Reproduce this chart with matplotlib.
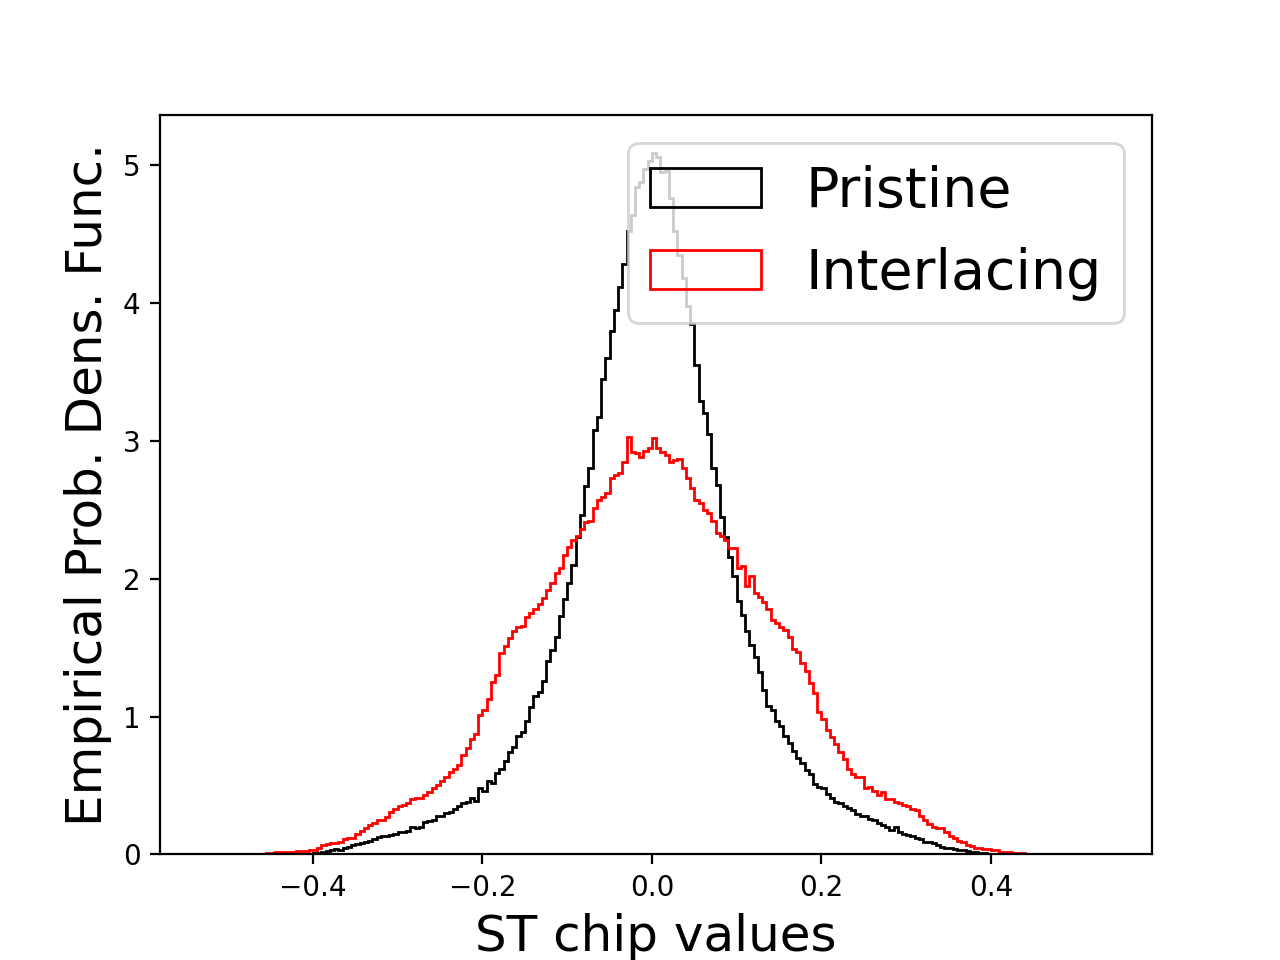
import numpy as np
import matplotlib
matplotlib.use("Agg")
import matplotlib.pyplot as plt

bin_width = 0.005

# Interlacing (red) bin heights, bins of width 0.005 starting at -0.455
red_start = -0.455
interlacing = [
    0.010, 0.012, 0.015, 0.015, 0.018, 0.020, 0.020, 0.022, 0.025, 0.028,
    0.030, 0.035, 0.050, 0.070, 0.075, 0.080, 0.085, 0.090, 0.110, 0.120,
    0.120, 0.150, 0.170, 0.190, 0.210, 0.230, 0.250, 0.250, 0.270, 0.310,
    0.330, 0.350, 0.360, 0.370, 0.400, 0.410, 0.410, 0.430, 0.450, 0.480,
    0.500, 0.530, 0.560, 0.600, 0.620, 0.650, 0.720, 0.770, 0.840, 0.870,
    1.010, 1.050, 1.130, 1.250, 1.300, 1.460, 1.510, 1.570, 1.620, 1.650,
    1.660, 1.720, 1.750, 1.780, 1.820, 1.860, 1.920, 1.970, 2.040, 2.080,
    2.170, 2.230, 2.280, 2.310, 2.360, 2.410, 2.420, 2.510, 2.570, 2.590,
    2.620, 2.730, 2.750, 2.770, 2.850, 3.030, 2.920, 2.910, 2.880, 2.930,
    2.950, 3.020, 2.950, 2.920, 2.900, 2.850, 2.860, 2.870, 2.800, 2.730,
    2.660, 2.570, 2.550, 2.500, 2.480, 2.420, 2.330, 2.310, 2.280, 2.220,
    2.220, 2.080, 2.090, 1.950, 2.020, 1.900, 1.870, 1.830, 1.780, 1.700,
    1.680, 1.650, 1.630, 1.580, 1.490, 1.470, 1.390, 1.330, 1.240, 1.170,
    1.030, 0.980, 0.900, 0.850, 0.800, 0.740, 0.690, 0.620, 0.580, 0.560,
    0.560, 0.480, 0.490, 0.460, 0.430, 0.450, 0.400, 0.400, 0.380, 0.370,
    0.360, 0.350, 0.330, 0.320, 0.280, 0.250, 0.220, 0.200, 0.190, 0.190,
    0.160, 0.130, 0.120, 0.100, 0.090, 0.070, 0.060, 0.050, 0.050, 0.040,
    0.040, 0.030, 0.030, 0.020, 0.015, 0.015, 0.010, 0.010, 0.008, 0.006,
    0.005, 0.004,
]

# Pristine (black) bin heights, bins of width 0.005 starting at -0.42
black_start = -0.42
pristine = [
    0.002, 0.003, 0.004, 0.005, 0.008, 0.012, 0.018, 0.025, 0.035, 0.040,
    0.035, 0.045, 0.055, 0.065, 0.075, 0.080, 0.090, 0.100, 0.110, 0.125,
    0.130, 0.130, 0.140, 0.150, 0.160, 0.165, 0.170, 0.200, 0.190, 0.200,
    0.235, 0.240, 0.250, 0.280, 0.280, 0.300, 0.310, 0.330, 0.350, 0.370,
    0.380, 0.410, 0.390, 0.480, 0.460, 0.530, 0.520, 0.590, 0.620, 0.680,
    0.740, 0.780, 0.860, 0.890, 0.970, 1.070, 1.150, 1.180, 1.260, 1.400,
    1.480, 1.580, 1.730, 1.850, 1.970, 2.100, 2.300, 2.460, 2.670, 2.800,
    3.080, 3.170, 3.450, 3.600, 3.800, 3.950, 4.120, 4.280, 4.520, 4.640,
    4.840, 4.880, 4.970, 5.030, 5.090, 5.060, 4.950, 4.960, 4.760, 4.520,
    4.350, 4.180, 3.980, 3.850, 3.550, 3.290, 3.200, 3.050, 2.800, 2.680,
    2.450, 2.300, 2.160, 2.020, 1.840, 1.740, 1.620, 1.520, 1.430, 1.320,
    1.190, 1.080, 1.050, 0.970, 0.930, 0.860, 0.810, 0.750, 0.700, 0.660,
    0.610, 0.580, 0.510, 0.490, 0.480, 0.440, 0.410, 0.380, 0.370, 0.350,
    0.340, 0.320, 0.290, 0.280, 0.280, 0.260, 0.250, 0.230, 0.210, 0.200,
    0.180, 0.200, 0.160, 0.145, 0.140, 0.130, 0.120, 0.115, 0.090, 0.090,
    0.080, 0.065, 0.055, 0.050, 0.050, 0.040, 0.035, 0.030, 0.025, 0.020,
    0.015, 0.012, 0.008, 0.005, 0.003,
]

series_labels = ["Pristine", "Interlacing"]
x_ticks = [-0.4, -0.2, 0.0, 0.2, 0.4]
y_ticks = [0, 1, 2, 3, 4, 5]

fig, ax = plt.subplots(figsize=(6.4, 4.8), dpi=200)

def draw(values, start, color, label):
    vals = np.asarray(values, dtype=float)
    edges = start + bin_width * np.arange(len(vals) + 1)
    centers = 0.5 * (edges[:-1] + edges[1:])
    ax.hist(centers, bins=edges, weights=vals, histtype="step",
            color=color, linewidth=1.0, label=label)

draw(pristine, black_start, "black", series_labels[0])
draw(interlacing, red_start, "red", series_labels[1])

ax.set_xlim(-0.5805, 0.590)
ax.set_ylim(0, 5.363)
ax.set_xticks(x_ticks)
ax.set_yticks(y_ticks)
ax.set_xlabel("ST chip values", fontsize=18)
ax.set_ylabel("Empirical Prob. Dens. Func.", fontsize=18)
ax.legend(loc="upper right", fontsize=20)

fig.savefig("out.png", dpi=200)
